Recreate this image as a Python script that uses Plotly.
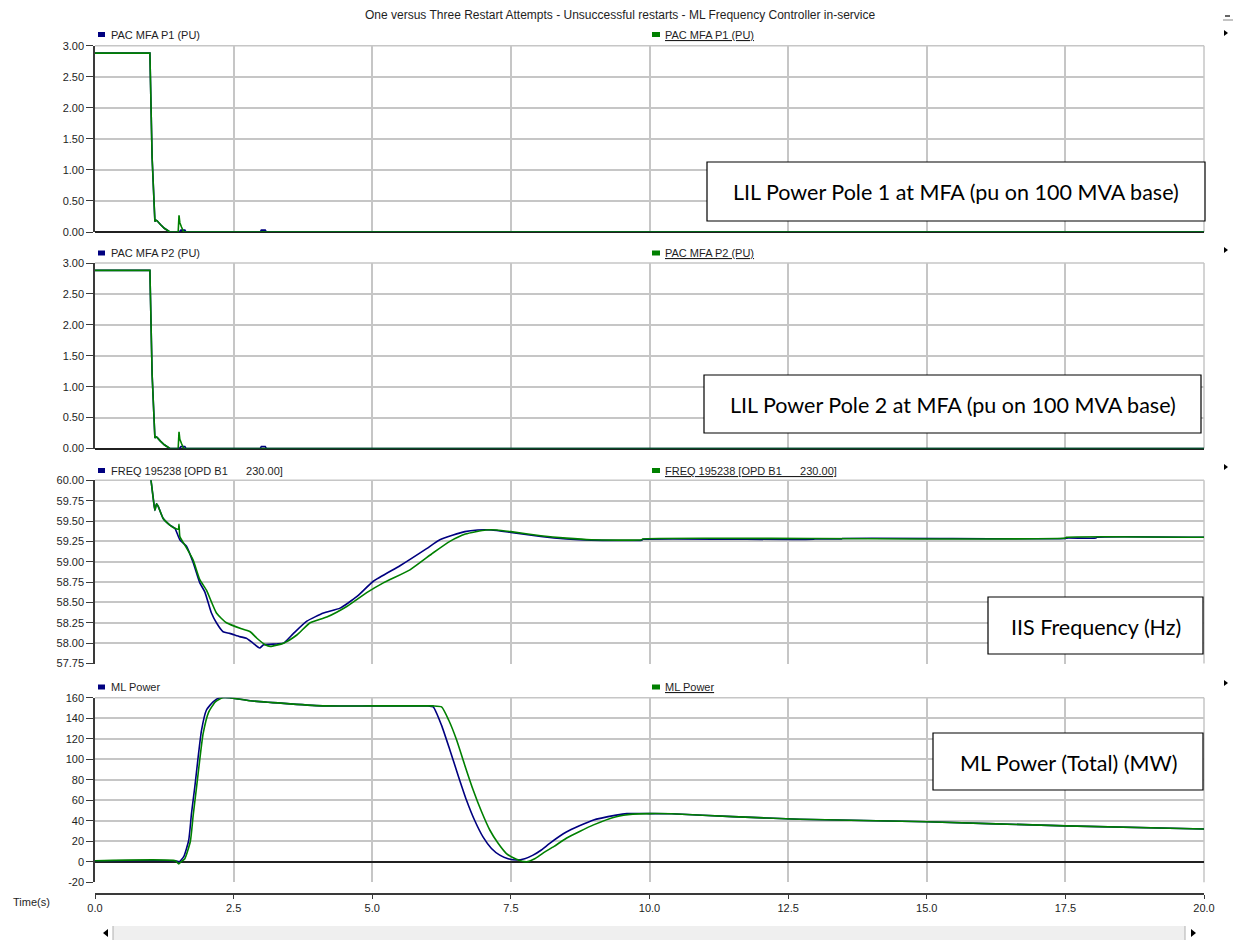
import plotly.graph_objects as go

W, H = 1233, 940

def px(x):
    return x / W

def py(y):
    return 1 - y / H

# ---------------- DATA ----------------
title_text = "One versus Three Restart Attempts - Unsuccessful restarts - ML Frequency Controller in-service"

# Panel 1: PAC MFA P1 (PU)
p1_t_blue = [0, 0.99, 1.03, 1.07, 1.08, 1.10, 1.12, 1.18, 1.25, 1.35, 1.52, 1.55, 1.62, 1.64, 2.98, 3.00, 3.07, 3.09, 20]
p1_v_blue = [2.88, 2.88, 1.20, 0.20, 0.17, 0.19, 0.18, 0.12, 0.06, 0.0, 0.0, 0.03, 0.03, 0.0, 0.0, 0.03, 0.03, 0.0, 0.0]
p1_t_green = [0, 0.99, 1.03, 1.07, 1.08, 1.10, 1.12, 1.18, 1.25, 1.35, 1.50, 1.515, 1.53, 1.56, 1.60, 20]
p1_v_green = [2.88, 2.88, 1.20, 0.20, 0.17, 0.19, 0.18, 0.12, 0.06, 0.0, 0.0, 0.27, 0.15, 0.08, 0.0, 0.0]

# Panel 2: PAC MFA P2 (PU)
p2_t_blue = [0, 0.99, 1.03, 1.07, 1.08, 1.10, 1.12, 1.18, 1.25, 1.35, 1.52, 1.55, 1.62, 1.64, 2.98, 3.00, 3.07, 3.09, 20]
p2_v_blue = [2.88, 2.88, 1.20, 0.20, 0.17, 0.19, 0.18, 0.12, 0.06, 0.0, 0.0, 0.03, 0.03, 0.0, 0.0, 0.03, 0.03, 0.0, 0.0]
p2_t_green = [0, 0.99, 1.03, 1.07, 1.08, 1.10, 1.12, 1.18, 1.25, 1.35, 1.50, 1.515, 1.53, 1.56, 1.60, 20]
p2_v_green = [2.88, 2.88, 1.20, 0.20, 0.17, 0.19, 0.18, 0.12, 0.06, 0.0, 0.0, 0.27, 0.15, 0.08, 0.0, 0.0]

# Panel 3: FREQ 195238 [OPD B1 230.00]
f_t_blue = [0, 0.98, 1.01, 1.05, 1.08, 1.11, 1.14, 1.23, 1.35, 1.44, 1.53, 1.65, 1.77, 1.89, 1.98, 2.10, 2.19,
            2.31, 2.43, 2.61, 2.73, 2.85, 2.97, 3.04, 3.28, 3.40, 3.58, 3.82, 4.12, 4.42, 4.72, 5.02, 5.50,
            5.98, 6.22, 6.67, 6.90, 7.15, 7.50, 8.04, 8.50, 8.95, 9.86, 9.88, 12.96, 12.98, 13.46, 13.48,
            17.50, 17.52, 18.05, 18.07, 20]
f_v_blue = [60.10, 60.10, 60.00, 59.78, 59.63, 59.71, 59.68, 59.53, 59.45, 59.41, 59.27, 59.19, 58.99, 58.74,
            58.63, 58.37, 58.25, 58.14, 58.12, 58.08, 58.06, 58.00, 57.94, 57.98, 57.99, 58.00, 58.12, 58.27,
            58.37, 58.43, 58.57, 58.76, 58.95, 59.16, 59.27, 59.37, 59.39, 59.39, 59.36, 59.31, 59.28, 59.265,
            59.265, 59.275, 59.275, 59.28, 59.28, 59.285, 59.285, 59.29, 59.29, 59.30, 59.30]
f_t_green = [0, 0.98, 1.01, 1.05, 1.08, 1.11, 1.14, 1.23, 1.35, 1.44, 1.505, 1.515, 1.53, 1.56, 1.65, 1.77,
             1.89, 2.01, 2.19, 2.37, 2.67, 2.80, 2.92, 3.07, 3.16, 3.40, 3.64, 3.88, 4.18, 4.54, 4.90, 5.20,
             5.68, 6.10, 6.40, 6.68, 7.05, 7.25, 7.50, 8.04, 8.50, 8.95, 9.86, 9.88, 12.96, 17.50, 17.52, 20]
f_v_green = [60.10, 60.10, 60.00, 59.78, 59.63, 59.71, 59.68, 59.53, 59.45, 59.41, 59.40, 59.46, 59.31,
             59.27, 59.17, 59.02, 58.78, 58.65, 58.37, 58.25, 58.17, 58.14, 58.06, 57.98, 57.96, 58.00,
             58.10, 58.25, 58.32, 58.45, 58.62, 58.74, 58.90, 59.11, 59.25, 59.34, 59.39, 59.39, 59.37,
             59.32, 59.29, 59.27, 59.27, 59.28, 59.285, 59.29, 59.30, 59.30]

# Panel 4: ML Power (MW)
pw_t_blue = [0, 1.45, 1.52, 1.60, 1.69, 1.74, 1.80, 1.86, 1.92, 2.01, 2.13, 2.25, 2.43, 2.80, 3.52, 4.15,
             5.00, 5.80, 6.00, 6.10, 6.25, 6.40, 6.55, 6.70, 6.85, 7.00, 7.15, 7.30, 7.45, 7.60, 7.75, 7.90,
             8.05, 8.20, 8.50, 8.98, 9.40, 9.59, 10.00, 10.40, 11.50, 12.70, 15.00, 17.50, 20.00]
pw_v_blue = [1, 1, 0, 5, 21, 47, 73, 102, 128, 148, 156, 160, 160, 157, 154, 152,
             152, 152, 152, 151, 133, 109, 84, 60, 40, 24, 13, 6.5, 3, 1.7, 3, 6.5,
             11.5, 18, 29, 40.6, 45.5, 47, 47, 46.8, 44, 41.5, 39, 35, 32]
pw_t_green = [0, 1.45, 1.51, 1.55, 1.62, 1.72, 1.77, 1.83, 1.89, 1.95, 2.05, 2.17, 2.30, 2.43, 2.80, 3.52,
              4.15, 5.00, 5.90, 6.10, 6.25, 6.38, 6.52, 6.67, 6.82, 6.97, 7.12, 7.27, 7.42, 7.60, 7.78, 7.93,
              8.08, 8.28, 8.50, 8.99, 9.40, 9.70, 10.00, 10.40, 11.50, 12.70, 15.00, 17.50, 20.00]
pw_v_green = [1, 1, -2, 0, 3, 20, 45, 72, 100, 125, 146, 156, 160, 160, 157, 154,
              152, 152, 152, 152, 151, 138, 119, 94, 70, 49, 31, 18, 8, 2.5, 0, 3,
              8.5, 15, 23, 36, 44, 46.5, 47, 46.8, 44, 41.5, 39, 35, 32]

power_tick_vals = [-20, 0, 20, 40, 60, 80, 100, 120, 140, 160]
power_tick_text = ["-20", "0", "20", "40", "60", "80", "100", "120", "140", "160"]

legend_names = ["PAC MFA P1 (PU)", "PAC MFA P2 (PU)",
                "FREQ 195238 [OPD B1\u00a0\u00a0\u00a0\u00a0\u00a0\u00a0230.00]", "ML Power"]
box_labels = ["LIL Power Pole 1 at MFA (pu on 100 MVA base)",
              "LIL Power Pole 2 at MFA (pu on 100 MVA base)",
              "IIS Frequency (Hz)",
              "ML Power (Total) (MW)"]

# ---------------- STYLE / LAYOUT ----------------
BLUE = "#000080"
GREEN = "#008000"
GRID = "#c6c6c6"
AXC = "#3a3a3a"
TXT = "#1e1e1e"
FONT = "Liberation Sans"

X0, X1 = 95, 1204
panels = [  # (top px, bottom px)
    (45.7, 232.0),
    (263.0, 448.5),
    (480.3, 663.5),
    (697.7, 882.3),
]
legend_y = [34.5, 253.0, 470.5, 687.0]
boxes = [(707, 162, 1205, 221), (704, 375, 1201, 433), (988, 597, 1203, 654), (933, 733, 1203, 790)]

fig = go.Figure()
series = [
    (p1_t_blue, p1_v_blue, p1_t_green, p1_v_green),
    (p2_t_blue, p2_v_blue, p2_t_green, p2_v_green),
    (f_t_blue, f_v_blue, f_t_green, f_v_green),
    (pw_t_blue, pw_v_blue, pw_t_green, pw_v_green),
]
for i, (tb, vb, tg, vg) in enumerate(series):
    xa = "x" if i == 0 else f"x{i+1}"
    ya = "y" if i == 0 else f"y{i+1}"
    lsh = dict(shape="linear") if i < 2 else dict(shape="spline", smoothing=0.5)
    fig.add_trace(go.Scatter(x=tb, y=vb, mode="lines", line=dict(color=BLUE, width=1.6, **lsh),
                             xaxis=xa, yaxis=ya, showlegend=False, hoverinfo="skip"))
    fig.add_trace(go.Scatter(x=tg, y=vg, mode="lines", line=dict(color=GREEN, width=1.6, **lsh),
                             xaxis=xa, yaxis=ya, showlegend=False, hoverinfo="skip"))

tickfont = dict(family=FONT, size=11, color=TXT)
yranges = [[0, 3], [0, 3], [57.75, 60], [-20, 160]]
layout = dict(
    width=W, height=H, autosize=False,
    margin=dict(l=0, r=0, t=0, b=0, pad=0, autoexpand=False),
    paper_bgcolor="white", plot_bgcolor="white",
    font=dict(family=FONT, size=11, color=TXT),
)
for i, (top, bot) in enumerate(panels):
    xk = "xaxis" if i == 0 else f"xaxis{i+1}"
    yk = "yaxis" if i == 0 else f"yaxis{i+1}"
    ya = "y" if i == 0 else f"y{i+1}"
    xa = "x" if i == 0 else f"x{i+1}"
    xdict = dict(domain=[px(X0), px(X1)], range=[0, 20], tick0=0, dtick=2.5, automargin=False,
                 showgrid=True, gridcolor=GRID, gridwidth=1.5, zeroline=False,
                 showline=False, ticks="", showticklabels=False, anchor=ya, fixedrange=True)
    if i == 3:
        xdict.update(anchor="free", position=py(894.3), showline=True, linecolor=AXC, linewidth=1.5,
                     ticks="outside", ticklen=4, tickwidth=1.2, tickcolor=AXC, showticklabels=True,
                     tickformat=".1f", tickfont=tickfont)
    layout[xk] = xdict
    ydict = dict(domain=[py(bot), py(top)], range=yranges[i], anchor=xa, automargin=False,
                 showgrid=True, gridcolor=GRID, gridwidth=1.5,
                 showline=True, linecolor=AXC, linewidth=1.5,
                 ticks="outside", ticklen=7, tickwidth=1.2, tickcolor=AXC,
                 tickfont=tickfont, fixedrange=True,
                 zeroline=True, zerolinecolor="#202020", zerolinewidth=1.5)
    if i < 2:
        ydict.update(dtick=0.5, tick0=0, tickformat=".2f")
    elif i == 2:
        ydict.update(dtick=0.25, tick0=57.75, tickformat=".2f", zeroline=False)
    else:
        ydict.update(tickmode="array", tickvals=power_tick_vals, ticktext=power_tick_text)
    layout[yk] = ydict

fig.update_layout(**layout)

shapes = []
annotations = []

# frame: top and right edges
for top, bot in panels:
    shapes.append(dict(type="line", xref="paper", yref="paper", x0=px(X0), x1=px(X1), y0=py(top), y1=py(top),
                       line=dict(color=GRID, width=1.5), layer="below"))
    shapes.append(dict(type="line", xref="paper", yref="paper", x0=px(X1), x1=px(X1), y0=py(top), y1=py(bot),
                       line=dict(color=GRID, width=1.5), layer="below"))

# legend entries
for i, ly in enumerate(legend_y):
    shapes.append(dict(type="rect", xref="paper", yref="paper", x0=px(98), x1=px(105), y0=py(ly + 2.5), y1=py(ly - 2.5),
                       fillcolor=BLUE, line=dict(width=0)))
    shapes.append(dict(type="rect", xref="paper", yref="paper", x0=px(652), x1=px(660), y0=py(ly + 2.5), y1=py(ly - 2.5),
                       fillcolor=GREEN, line=dict(width=0)))
    annotations.append(dict(xref="paper", yref="paper", x=px(109), y=py(ly), xanchor="left", yanchor="middle",
                            text=legend_names[i], showarrow=False, font=dict(family=FONT, size=11, color=TXT)))
    annotations.append(dict(xref="paper", yref="paper", x=px(663), y=py(ly), xanchor="left", yanchor="middle",
                            text="<u>" + legend_names[i] + "</u>", showarrow=False,
                            font=dict(family=FONT, size=11, color=TXT)))

# label boxes
for (bx0, by0, bx1, by1), lab in zip(boxes, box_labels):
    shapes.append(dict(type="rect", xref="paper", yref="paper", x0=px(bx0), x1=px(bx1), y0=py(by1), y1=py(by0),
                       fillcolor="white", line=dict(color="black", width=1.2), layer="above"))
    annotations.append(dict(xref="paper", yref="paper", x=px((bx0 + bx1) / 2), y=py((by0 + by1) / 2 + 1),
                            xanchor="center", yanchor="middle", text=lab, showarrow=False,
                            font=dict(family="Lato", size=21.5, color="black")))

# title and time label
annotations.append(dict(xref="paper", yref="paper", x=px(620), y=py(15), xanchor="center", yanchor="middle",
                        text=title_text, showarrow=False, font=dict(family=FONT, size=12, color=TXT)))
annotations.append(dict(xref="paper", yref="paper", x=px(11), y=py(902), xanchor="left", yanchor="middle",
                        text="Time(s)", showarrow=False, font=dict(family=FONT, size=11, color=TXT)))

# right side small markers
for ty in [33, 250, 467, 683]:
    shapes.append(dict(type="path", xref="paper", yref="paper",
                       path=f"M {px(1224)} {py(ty - 3)} L {px(1228)} {py(ty)} L {px(1224)} {py(ty + 3)} Z",
                       fillcolor="black", line=dict(width=0)))
shapes.append(dict(type="line", xref="paper", yref="paper", x0=px(1223), x1=px(1233), y0=py(20), y1=py(20),
                   line=dict(color="#888888", width=1)))
shapes.append(dict(type="line", xref="paper", yref="paper", x0=px(1225), x1=px(1230), y0=py(16), y1=py(16),
                   line=dict(color="black", width=1.2)))

# scrollbar
shapes.append(dict(type="rect", xref="paper", yref="paper", x0=px(113), x1=px(1185), y0=py(940), y1=py(926),
                   fillcolor="#efefef", line=dict(width=0)))
shapes.append(dict(type="line", xref="paper", yref="paper", x0=px(113), x1=px(113), y0=py(940), y1=py(926),
                   line=dict(color="#b0b0b0", width=1)))
shapes.append(dict(type="line", xref="paper", yref="paper", x0=px(1185), x1=px(1185), y0=py(940), y1=py(926),
                   line=dict(color="#b0b0b0", width=1)))
shapes.append(dict(type="path", xref="paper", yref="paper",
                   path=f"M {px(108)} {py(929)} L {px(103)} {py(933)} L {px(108)} {py(937)} Z",
                   fillcolor="black", line=dict(width=0)))
shapes.append(dict(type="path", xref="paper", yref="paper",
                   path=f"M {px(1191)} {py(929)} L {px(1196)} {py(933)} L {px(1191)} {py(937)} Z",
                   fillcolor="black", line=dict(width=0)))

fig.update_layout(shapes=shapes, annotations=annotations)
fig.write_html("out.html")
